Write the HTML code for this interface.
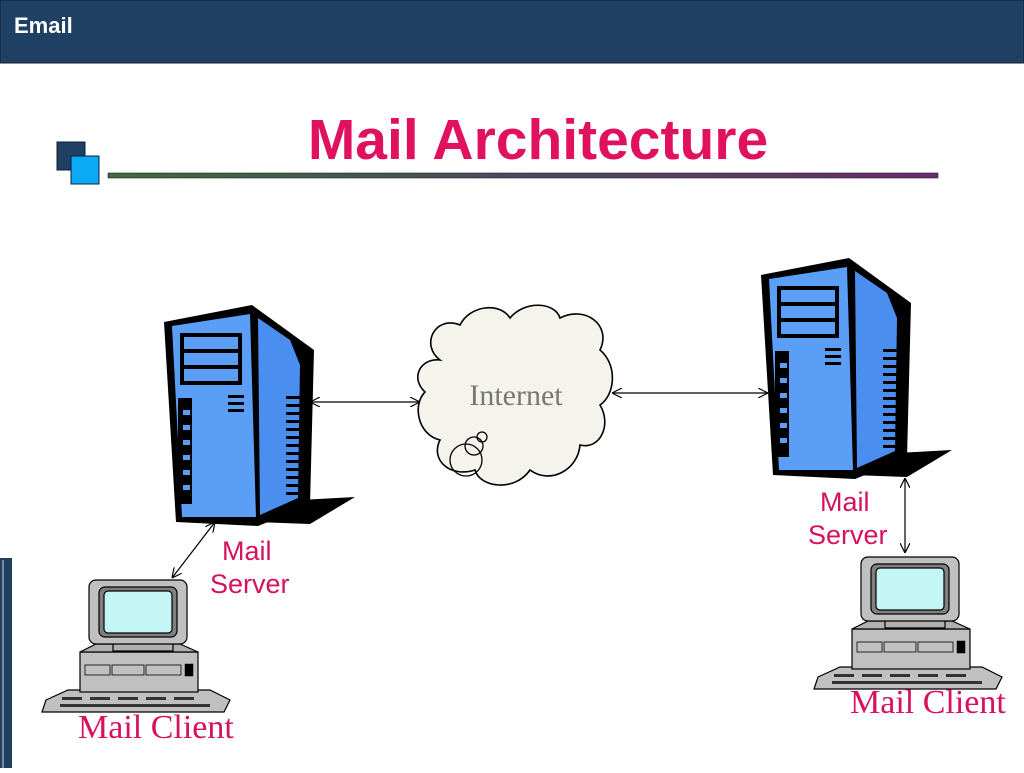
<!DOCTYPE html>
<html><head><meta charset="utf-8"><style>
html,body{margin:0;padding:0;background:#fff;}
body{width:1024px;height:768px;overflow:hidden;position:relative;font-family:"Liberation Sans",sans-serif;}
</style></head><body>
<svg width="1024" height="768" viewBox="0 0 1024 768" xmlns="http://www.w3.org/2000/svg">
<defs>
<linearGradient id="lg" x1="0" x2="1" y1="0" y2="0"><stop offset="0" stop-color="#3d6b3a"/><stop offset="0.5" stop-color="#4a4a5a"/><stop offset="1" stop-color="#6b2a6b"/></linearGradient>
<marker id="ah" viewBox="0 0 10 10" refX="10" refY="5" markerWidth="10" markerHeight="10" orient="auto-start-reverse" markerUnits="userSpaceOnUse"><path d="M0,0 L10,5 L0,10" fill="none" stroke="#000" stroke-width="1.2"/></marker>
<g id="srv">
  <polygon points="300,500 355,497 310,524 255,522" fill="#000"/>
  <polygon points="164,322 252,305 314,350 310,505 258,526 176,522" fill="#000"/>
  <polygon points="172,326 250,314 256,517 182,517" fill="#5a9ff5"/>
  <polygon points="258,318 290,340 300,365 298,498 260,515" fill="#4a8ef0"/>
  <rect x="180" y="333" width="62" height="52" fill="#000"/>
  <rect x="184" y="337" width="54" height="12" fill="#5a9ff5"/>
  <rect x="184" y="353" width="54" height="12" fill="#5a9ff5"/>
  <rect x="184" y="369" width="54" height="12" fill="#5a9ff5"/>
  <rect x="178" y="398" width="14" height="106" fill="#000"/>
  <g fill="#5a9ff5"><rect x="183" y="410" width="7" height="5"/><rect x="183" y="425" width="7" height="5"/><rect x="183" y="440" width="7" height="5"/><rect x="183" y="455" width="7" height="5"/><rect x="183" y="470" width="7" height="5"/><rect x="183" y="485" width="7" height="5"/></g>
  <g fill="#000"><rect x="228" y="395" width="16" height="3"/><rect x="228" y="402" width="16" height="3"/><rect x="228" y="409" width="16" height="3"/></g>
  <g fill="#000"><rect x="286" y="396" width="18" height="3"/><rect x="286" y="404" width="18" height="3"/><rect x="286" y="412" width="18" height="3"/><rect x="286" y="420" width="18" height="3"/><rect x="286" y="428" width="18" height="3"/><rect x="286" y="436" width="18" height="3"/><rect x="286" y="444" width="18" height="3"/><rect x="286" y="452" width="18" height="3"/><rect x="286" y="460" width="18" height="3"/><rect x="286" y="468" width="18" height="3"/><rect x="286" y="476" width="18" height="3"/><rect x="286" y="484" width="18" height="3"/><rect x="286" y="492" width="18" height="3"/></g>
</g>
<g id="pc" stroke="#000" stroke-width="1.2">
  <polygon points="46,700 68,690 210,690 230,700 224,712 42,712" fill="#c0c0c0"/>
  <rect x="80" y="652" width="118" height="40" fill="#c0c0c0"/>
  <polygon points="80,652 96,644 180,644 198,652" fill="#b0b0b0"/>
  <rect x="113" y="643" width="60" height="8" fill="#b0b0b0"/>
  <rect x="89" y="580" width="98" height="64" rx="7" fill="#c0c0c0"/>
  <rect x="99" y="587" width="78" height="50" rx="6" fill="#808080"/>
  <rect x="104" y="591" width="68" height="42" rx="4" fill="#c4f6f6"/>
  <rect x="85" y="665" width="25" height="10" fill="#c0c0c0" stroke-width="0.8"/>
  <rect x="112" y="665" width="32" height="10" fill="#c0c0c0" stroke-width="0.8"/>
  <rect x="146" y="665" width="35" height="10" fill="#c0c0c0" stroke-width="0.8"/>
  <rect x="185" y="664" width="8" height="12" fill="#000" stroke-width="0.5"/>
  <g stroke-width="0" fill="#333"><rect x="62" y="697" width="20" height="3"/><rect x="90" y="697" width="20" height="3"/><rect x="118" y="697" width="20" height="3"/><rect x="146" y="697" width="20" height="3"/><rect x="174" y="697" width="20" height="3"/><rect x="60" y="704" width="150" height="3"/></g>
</g>
<g id="ms" font-size="27" fill="#d6115f"><text x="0" y="0">Mail</text><text x="-12" y="33">Server</text></g>
</defs>
<rect x="0" y="0" width="1024" height="63" fill="#1f3f63" stroke="#0f1f33"/>
<text x="14" y="33" font-size="22" font-weight="bold" fill="#fff">Email</text>
<rect x="0" y="558" width="12" height="210" fill="#1f3f63"/>
<rect x="2" y="560" width="2" height="208" fill="#fff" opacity="0.4"/>
<rect x="57" y="142" width="28" height="28" fill="#1f3f63" stroke="#0f1f33"/>
<rect x="71" y="156" width="28" height="28" fill="#0aaaf5" stroke="#0f1f33"/>
<rect x="108" y="173" width="830" height="5" fill="url(#lg)" stroke="#223" stroke-width="0.6"/>
<text x="538" y="159" text-anchor="middle" font-size="57" font-weight="bold" fill="#e0115f">Mail Architecture</text>
<use href="#srv"/>
<use href="#srv" transform="translate(597,-47)"/>
<use href="#pc"/>
<use href="#pc" transform="translate(772,-23)"/>
<path d="M440,360 C420,345 435,315 460,325 C470,305 500,302 510,318 C525,300 555,302 560,318 C585,305 612,325 600,350 C618,365 615,395 600,405 C612,425 600,450 580,445 C578,470 550,485 530,470 C515,492 480,488 475,470 C450,478 430,460 440,440 C418,435 412,405 425,392 C410,378 420,358 440,360 Z" fill="#f4f4ec" stroke="#000" stroke-width="1.6"/>
<circle cx="466" cy="460" r="16" fill="none" stroke="#000" stroke-width="1.3"/>
<circle cx="474" cy="446" r="9" fill="none" stroke="#000" stroke-width="1.3"/>
<circle cx="482" cy="437" r="5" fill="none" stroke="#000" stroke-width="1.3"/>
<text x="516" y="405" text-anchor="middle" font-family="Liberation Serif,serif" font-size="30" fill="#777">Internet</text>
<g stroke="#000" stroke-width="1.2" marker-start="url(#ah)" marker-end="url(#ah)">
<line x1="310" y1="402" x2="420" y2="402"/>
<line x1="612" y1="393" x2="768" y2="393"/>
<line x1="215" y1="522" x2="172" y2="578"/>
<line x1="905" y1="478" x2="905" y2="553"/>
</g>
<use href="#ms" transform="translate(222,560)"/>
<use href="#ms" transform="translate(820,511)"/>
<text x="78" y="738" font-family="Liberation Serif,serif" font-size="34" fill="#d6115f">Mail Client</text>
<text x="850" y="713" font-family="Liberation Serif,serif" font-size="34" fill="#d6115f">Mail Client</text>
</svg>
</body></html>
